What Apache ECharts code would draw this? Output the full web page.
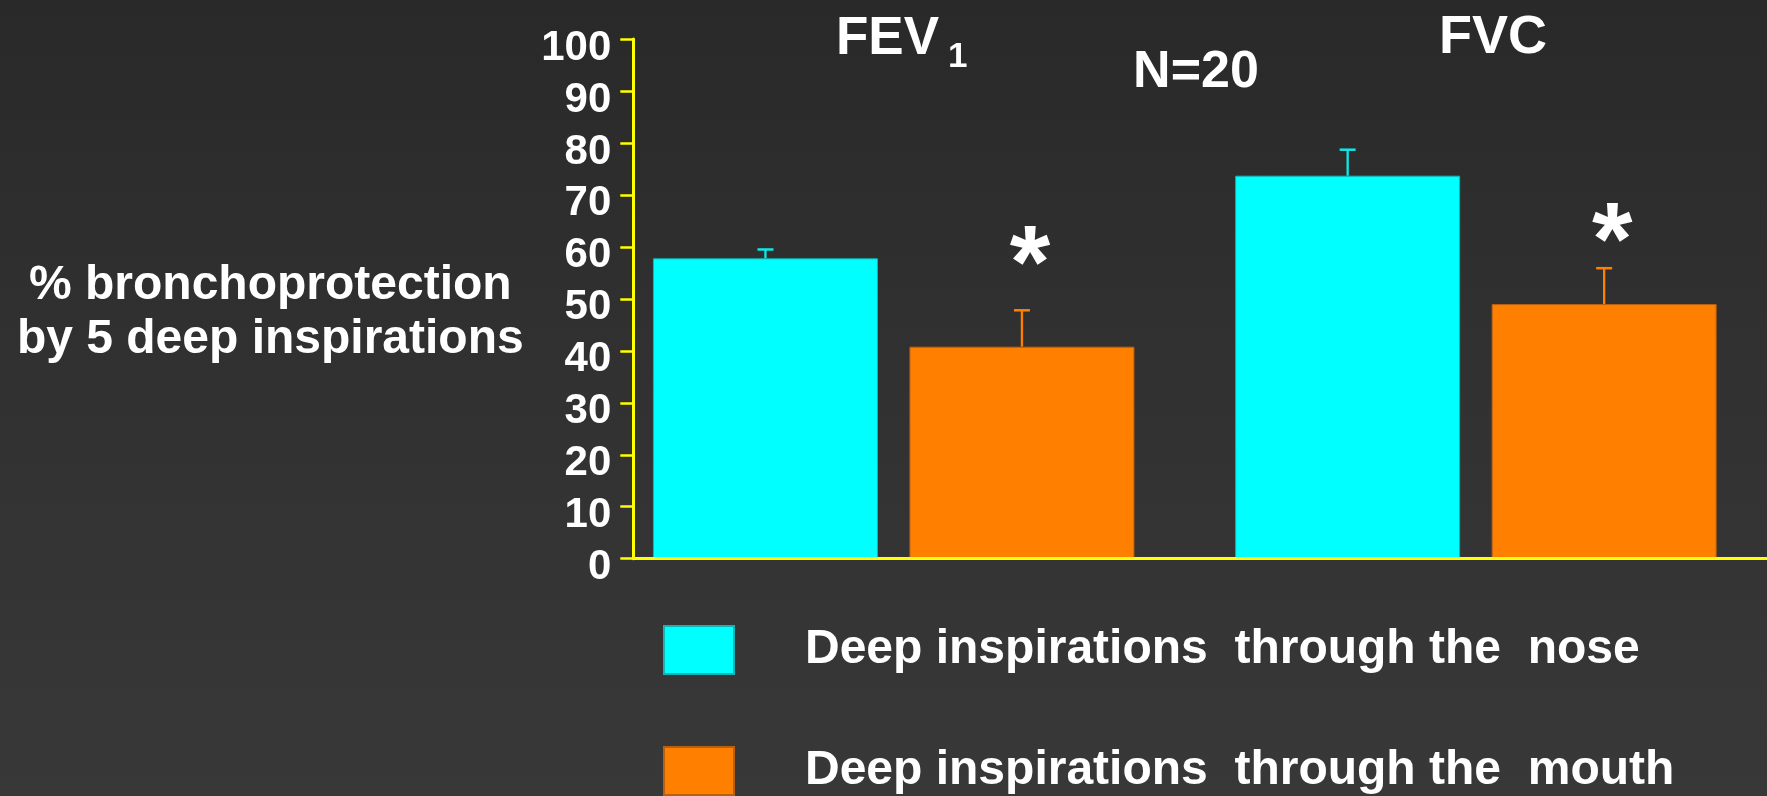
<!DOCTYPE html>
<html>
<head>
<meta charset="utf-8">
<title>Bronchoprotection by deep inspirations</title>
<script src="https://cdn.jsdelivr.net/npm/echarts@6/dist/echarts.min.js"></script>
<style>
  html, body { margin: 0; padding: 0; }
  body { background: linear-gradient(to bottom, #292929 0%, #303030 40%, #383838 100%); }
  #chart { width: 1767px; height: 796px; }
</style>
</head>
<body>
<div id="chart"></div>
<script>
// ---- data ----
const categories = ['FEV1', 'FVC'];
const seriesNames = ['Deep inspirations  through the  nose', 'Deep inspirations  through the  mouth'];
const noseMean = [57.8, 73.7];
const noseSE = [1.7, 5.0];
const mouthMean = [40.8, 49.0];
const mouthSE = [7.0, 6.9];
const starLevel = [59.8, 64.3];   // height of the significance asterisk (% units)
const yTicks = [0, 10, 20, 30, 40, 50, 60, 70, 80, 90, 100];

// ---- style ----
const FONT = "'Liberation Sans', Arial, Helvetica, sans-serif";
const CYAN = '#00ffff';
const ORANGE = '#ff8000';
const YELLOW = '#ffff00';
const BAR_WIDTH = 225;
const BAR_GAP = 0.14;
const STAR_SIZE = 104;

function errorRenderer(side) {
  return function (params, api) {
    const idx = api.value(0);
    const mean = api.value(1);
    const se = api.value(2);
    const star = api.value(3);
    const color = api.visual('color');
    const offset = side * BAR_WIDTH * (1 + BAR_GAP) / 2;
    const x = api.coord([idx, 0])[0] + offset;
    const yBase = api.coord([idx, mean])[1];
    const yTop = api.coord([idx, mean + se])[1];
    const children = [
      { type: 'line', shape: { x1: x, y1: yBase, x2: x, y2: yTop }, style: { stroke: color, lineWidth: 2.3 } },
      { type: 'line', shape: { x1: x - 8, y1: yTop, x2: x + 8, y2: yTop }, style: { stroke: color, lineWidth: 2.5 } }
    ];
    if (!isNaN(star)) {
      const ys = api.coord([idx, star])[1];
      children.push({
        type: 'text',
        style: {
          text: '*', x: x + 8, y: ys + 0.21 * STAR_SIZE,
          fill: '#ffffff', font: 'bold ' + STAR_SIZE + 'px ' + FONT,
          align: 'center', verticalAlign: 'middle'
        }
      });
    }
    return { type: 'group', children: children };
  };
}

const noseErr = categories.map((c, i) => [i, noseMean[i], noseSE[i], NaN]);
const mouthErr = categories.map((c, i) => [i, mouthMean[i], mouthSE[i], starLevel[i]]);

const chart = echarts.init(document.getElementById('chart'), null, { renderer: 'canvas' });

const labelText = { color: '#ffffff', fontWeight: 'bold', fontFamily: FONT };

const option = {
  animation: false,
  backgroundColor: 'transparent',
  textStyle: { fontFamily: FONT },
  grid: [
    { left: 602.6, top: 39, width: 1167.4, bottom: 237.3 },
    { left: 633.3, top: 39, right: 0, bottom: 237.3 }
  ],
  xAxis: [
    { type: 'category', gridIndex: 0, data: categories, show: false },
    {
      type: 'value', gridIndex: 1, min: 0, max: 1, z: 10,
      axisLine: { show: true, lineStyle: { color: YELLOW, width: 3 } },
      axisTick: { show: false }, axisLabel: { show: false }, splitLine: { show: false }
    }
  ],
  yAxis: [
    { type: 'value', gridIndex: 0, min: 0, max: 100, show: false },
    {
      type: 'value', gridIndex: 1, min: yTicks[0], max: yTicks[yTicks.length - 1], interval: 10, z: 10,
      axisLine: { show: true, lineStyle: { color: YELLOW, width: 3 } },
      axisTick: { show: true, length: 13, lineStyle: { color: YELLOW, width: 2.5 } },
      axisLabel: {
        margin: 22,
        formatter: v => '{t|' + v + '}',
        rich: { t: Object.assign({ fontSize: 42, padding: [18, 0, 0, 0] }, labelText) }
      },
      splitLine: { show: false },
      name: '{s| }\n{t|% bronchoprotection}\n{t|by 5 deep inspirations}',
      nameLocation: 'middle', nameRotate: 0, nameGap: 363,
      nameTextStyle: {
        align: 'center', verticalAlign: 'middle',
        rich: {
          s: { fontSize: 10, lineHeight: 27, height: 27 },
          t: Object.assign({ fontSize: 48, lineHeight: 54, align: 'center' }, labelText)
        }
      }
    }
  ],
  legend: {
    data: seriesNames,
    orient: 'vertical', left: 663, top: 625, padding: 0,
    itemWidth: 70, itemHeight: 48, itemGap: 71,
    icon: 'rect', selectedMode: false,
    textStyle: Object.assign({ fontSize: 48, lineHeight: 46, padding: [0, 0, 0, 66] }, labelText)
  },
  graphic: [
    { type: 'text', x: 836, y: 39, style: { text: 'FEV', fill: '#fff', font: 'bold 53px ' + FONT, align: 'left', verticalAlign: 'middle' } },
    { type: 'text', x: 948, y: 57, style: { text: '1', fill: '#fff', font: 'bold 35px ' + FONT, align: 'left', verticalAlign: 'middle' } },
    { type: 'text', x: 1196, y: 73, style: { text: 'N=20', fill: '#fff', font: 'bold 52px ' + FONT, align: 'center', verticalAlign: 'middle' } },
    { type: 'text', x: 1493, y: 38, style: { text: 'FVC', fill: '#fff', font: 'bold 54px ' + FONT, align: 'center', verticalAlign: 'middle' } }
  ],
  series: [
    {
      name: seriesNames[0], type: 'bar', xAxisIndex: 0, yAxisIndex: 0,
      data: noseMean, barWidth: BAR_WIDTH, barGap: (BAR_GAP * 100) + '%',
      itemStyle: { color: CYAN, borderColor: '#14b4b4', borderWidth: 1 }
    },
    {
      name: seriesNames[1], type: 'bar', xAxisIndex: 0, yAxisIndex: 0,
      data: mouthMean, barWidth: BAR_WIDTH, barGap: (BAR_GAP * 100) + '%',
      itemStyle: { color: ORANGE, borderColor: '#b86010', borderWidth: 1 }
    },
    {
      type: 'custom', name: 'nose SE', xAxisIndex: 0, yAxisIndex: 0,
      renderItem: errorRenderer(-1), data: noseErr, z: 5,
      itemStyle: { color: '#10e8e8' }
    },
    {
      type: 'custom', name: 'mouth SE', xAxisIndex: 0, yAxisIndex: 0,
      renderItem: errorRenderer(1), data: mouthErr, z: 5,
      itemStyle: { color: ORANGE }
    }
  ]
};

chart.setOption(option);
</script>
</body>
</html>
